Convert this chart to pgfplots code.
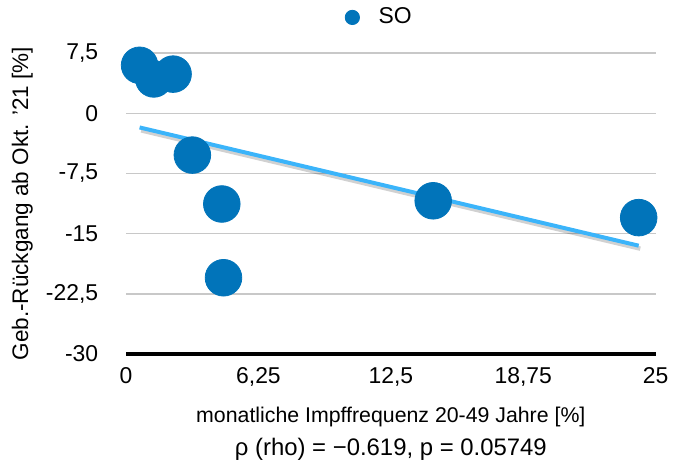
\documentclass[border=0pt]{standalone}
\usepackage{fontspec}
\setmainfont{Liberation Sans}
\usepackage{pgfplots}
\pgfplotsset{compat=1.18}
\definecolor{dotblue}{HTML}{0174BA}
\definecolor{trendblue}{HTML}{3BB4FA}
\definecolor{gridgray}{HTML}{C8C8C8}

\begin{document}
\begin{tikzpicture}
\begin{axis}[
  scale only axis,
  width=266pt, height=151pt,
  xmin=0, xmax=25, ymin=-30, ymax=7.5,
  xtick={0,6.25,12.5,18.75,25},
  xticklabels={{0},{6,25},{12,5},{18,75},{25}},
  ytick={-30,-22.5,-15,-7.5,0,7.5},
  yticklabels={{-30},{-22,5},{-15},{-7,5},{0},{7,5}},
  axis line style={draw=none},
  ymajorgrids, grid style={gridgray, line width=0.8pt},
  major tick length=0pt,
  tick label style={font=\fontsize{11.5}{13}\selectfont},
  xticklabel style={yshift=-3.5pt},
  yticklabel style={xshift=-10.5pt},
  clip=false,
  xlabel={monatliche Impffrequenz 20-49 Jahre [\%]\\[3.5pt]\fontsize{12}{14}\selectfont ρ (rho) = −0.619, p = 0.05749},
  xlabel style={align=center, font=\fontsize{10.7}{13}\selectfont, yshift=-3.5pt},
  ylabel={Geb.-Rückgang ab Okt. ’21 [\%]},
  ylabel style={font=\fontsize{11.3}{13}\selectfont, inner ysep=6pt, yshift=-3pt},
  legend style={at={(0.48,1)}, anchor=center, yshift=18pt, draw=none,
    font=\fontsize{11.5}{13}\selectfont, legend cell align=left},
  legend image code/.code={\fill[dotblue] (0,0) circle (3.6pt); \path (11pt,0);},
]
\addplot[only marks, mark=*, mark size=9.2pt, dotblue, mark options={draw=none, fill=dotblue}]
  coordinates {(0.64,6.0) (1.31,4.3) (2.22,4.9) (3.13,-5.2) (4.52,-11.3) (4.6,-20.5) (14.5,-10.9) (24.2,-13.0)};
\addlegendentry{SO}
\addplot[forget plot, black, opacity=0.18, line width=2.2pt, xshift=0.8pt, yshift=-1.5pt]
  coordinates {(0.64,-1.75) (24.2,-16.5)};
\addplot[forget plot, trendblue, line width=2pt]
  coordinates {(0.64,-1.75) (24.2,-16.5)};
\draw[black, line width=1.6pt] (axis cs:0,-30) -- (axis cs:25,-30);
\end{axis}
\end{tikzpicture}
\end{document}
